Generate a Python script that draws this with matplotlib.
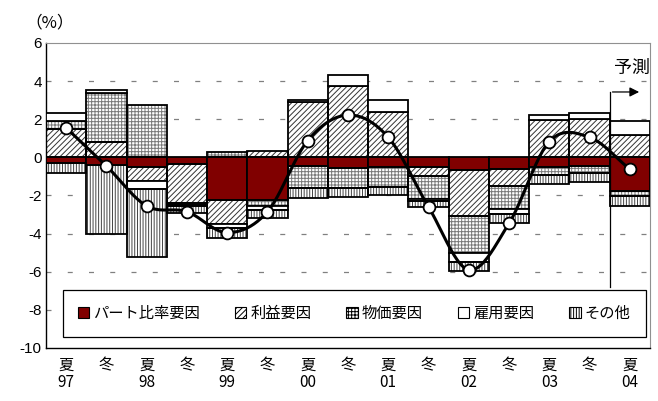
import numpy as np
import matplotlib
matplotlib.use("Agg")
import matplotlib.pyplot as plt
from matplotlib.patches import Patch

plt.rcParams['font.family'] = ['Noto Sans CJK JP', 'DejaVu Sans']
plt.rcParams['hatch.linewidth'] = 0.7

# Data
seasons = ['夏', '冬', '夏', '冬', '夏', '冬', '夏', '冬', '夏', '冬', '夏', '冬', '夏', '冬', '夏']
years = ['97', '', '98', '', '99', '', '00', '', '01', '', '02', '', '03', '', '04']
part = [-0.30, -0.40, -0.50, -0.35, -2.25, -2.25, -0.45, -0.55, -0.50, -0.50, -0.67, -0.60, -0.50, -0.45, -1.75]
profit = [1.50, 0.80, -0.75, -2.05, -1.25, 0.35, 2.90, 3.75, 2.40, -0.48, -2.40, -0.90, 1.96, 2.00, 1.18]
price = [0.40, 2.60, 2.75, -0.10, 0.30, -0.30, -1.17, -1.07, -1.03, -1.22, -1.93, -1.22, -0.43, -0.38, -0.30]
employ = [0.45, 0.15, -0.43, -0.05, -0.20, -0.20, 0.10, 0.57, 0.60, -0.10, -0.47, -0.25, 0.26, 0.31, 0.75]
other = [-0.50, -3.60, -3.57, -0.35, -0.55, -0.45, -0.53, -0.44, -0.44, -0.32, -0.47, -0.49, -0.47, -0.44, -0.50]
total = [1.55, -0.45, -2.55, -2.85, -3.95, -2.85, 0.88, 2.22, 1.05, -2.60, -5.90, -3.46, 0.83, 1.05, -0.62]

labels = ['パート比率要因', '利益要因', '物価要因', '雇用要因', 'その他']
series = [part, profit, price, employ, other]
styles = [
    dict(color='#800000', hatch=None, hcol='black'),
    dict(color='white', hatch='//////', hcol='#333333'),
    dict(color='white', hatch='+++++', hcol='#7a7a7a'),
    dict(color='white', hatch=None, hcol='black'),
    dict(color='white', hatch='||||||', hcol='#444444'),
]


def smooth(x, y, n=24):
    # Catmull-Rom curve through the points (like Excel's smoothed line)
    x = np.asarray(x, float)
    y = np.asarray(y, float)
    px = np.concatenate([[2 * x[0] - x[1]], x, [2 * x[-1] - x[-2]]])
    py = np.concatenate([[2 * y[0] - y[1]], y, [2 * y[-1] - y[-2]]])
    xs, ys = [], []
    t = np.linspace(0, 1, n, endpoint=False)
    for i in range(1, len(px) - 2):
        for p, out in ((px, xs), (py, ys)):
            p0, p1, p2, p3 = p[i - 1], p[i], p[i + 1], p[i + 2]
            out.extend(0.5 * (2 * p1 + (-p0 + p2) * t
                              + (2 * p0 - 5 * p1 + 4 * p2 - p3) * t ** 2
                              + (-p0 + 3 * p1 - 3 * p2 + p3) * t ** 3))
    xs.append(x[-1])
    ys.append(y[-1])
    return np.array(xs), np.array(ys)


fig = plt.figure(figsize=(6.58, 4.01), dpi=100)
ax = fig.add_axes([0.0699, 0.1322, 0.9179, 0.7606])

x = np.arange(len(part))
pos_base = np.zeros(len(x))
neg_base = np.zeros(len(x))
for vals, st in zip(series, styles):
    v = np.array(vals)
    bottom = np.where(v >= 0, pos_base, neg_base)
    if st['hatch']:
        ax.bar(x, v, width=1.0, bottom=bottom, color=st['color'],
               hatch=st['hatch'], edgecolor=st['hcol'], linewidth=0, zorder=2)
        ax.bar(x, v, width=1.0, bottom=bottom, fill=False,
               edgecolor='black', linewidth=1.3, zorder=3)
    else:
        ax.bar(x, v, width=1.0, bottom=bottom, color=st['color'],
               edgecolor='black', linewidth=1.3, zorder=3)
    pos_base = pos_base + np.where(v >= 0, v, 0)
    neg_base = neg_base + np.where(v < 0, v, 0)

sx, sy = smooth(x, total)
ax.plot(sx, sy, color='black', linewidth=2.2, zorder=4)
ax.plot(x, total, 'o', markersize=8.5, markerfacecolor='white',
        markeredgecolor='black', markeredgewidth=1.3, zorder=5)

ax.set_xlim(-0.5, len(x) - 0.5)
ax.set_ylim(-10, 6)
ax.set_yticks(np.arange(-10, 7, 2))
ax.set_yticklabels([str(v) for v in range(-10, 7, 2)], fontsize=11,
                   family=['Liberation Sans', 'DejaVu Sans'])
ax.set_xticks(x)
ax.set_xticklabels([s + '\n' + yr for s, yr in zip(seasons, years)],
                   fontsize=11, linespacing=1.05)
ax.tick_params(axis='both', length=0)
ax.tick_params(axis='x', pad=6)
ax.tick_params(axis='y', pad=3)

for yv in range(-8, 6, 2):
    ax.axhline(yv, color='#808080', linewidth=0.9, dashes=(4, 13), zorder=1)

for side in ['top', 'right']:
    ax.spines[side].set_color('#909090')
for side in ['left', 'bottom']:
    ax.spines[side].set_color('black')
    ax.spines[side].set_linewidth(1.0)

# forecast marker
ax.plot([13.5, 13.5], [-6.8, 3.43], color='black', linewidth=0.9, zorder=6)
ax.annotate('', xy=(14.3, 3.43), xytext=(13.5, 3.43),
            arrowprops=dict(arrowstyle='-|>', color='black', lw=0.9,
                            mutation_scale=14), zorder=6)
ax.text(14.05, 4.7, '予測', fontsize=13, ha='center', va='center')

fig.text(0.076, 0.943, '（%）', fontsize=12, ha='center', va='center')

handles = [Patch(facecolor=st['color'], hatch=st['hatch'], edgecolor='black',
                 linewidth=0.8) for st in styles]
leg = ax.legend(handles, labels, ncol=5, loc='center',
                bbox_to_anchor=(0.51, 0.113), fontsize=11,
                handlelength=0.75, handleheight=0.75, handletextpad=0.25,
                columnspacing=2.3, borderpad=1.0, fancybox=False,
                framealpha=1, edgecolor='black')
leg.get_frame().set_linewidth(0.9)
leg.set_zorder(7)

fig.savefig('out.png', dpi=100)
